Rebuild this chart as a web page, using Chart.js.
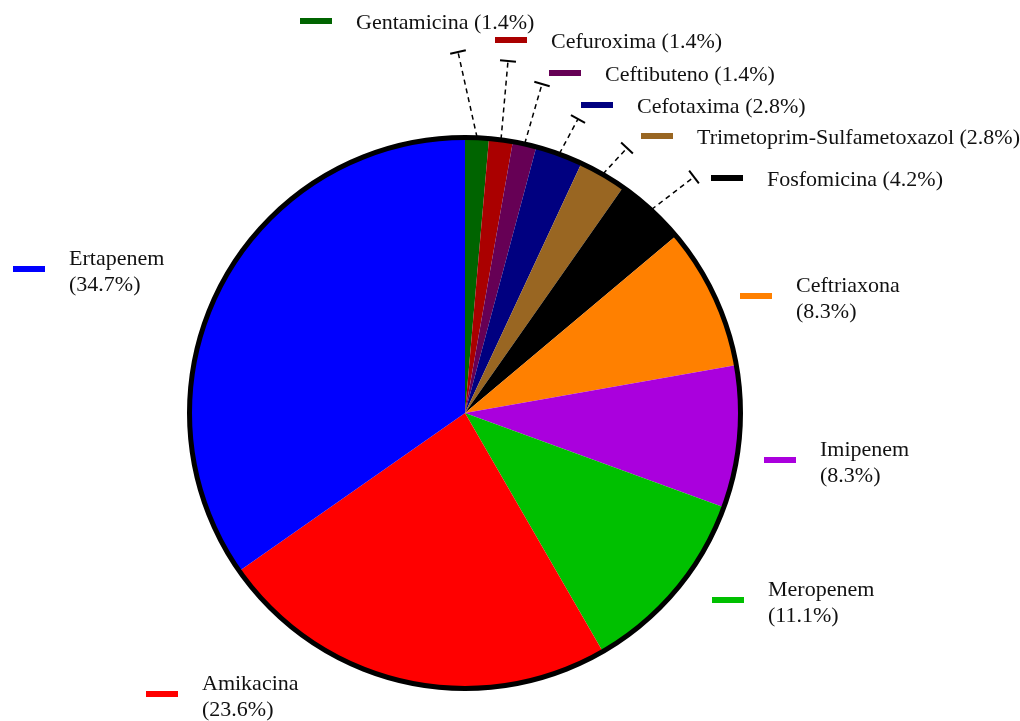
<!DOCTYPE html>
<html>
<head>
<meta charset="utf-8">
<script src="https://cdn.jsdelivr.net/npm/chart.js@4/dist/chart.umd.min.js"></script>
<style>
    html, body { margin: 0; padding: 0; background: #fff; }
    #wrap { width: 1020px; height: 721px; }
</style>
</head>
<body>
<div id="wrap"><canvas id="pieChart" width="1020" height="721"></canvas></div>
<script>
// data: number of isolates per antibiotic (percentages, n = 72)
const antibiotics = ['Gentamicina', 'Cefuroxima', 'Ceftibuteno', 'Cefotaxima',
    'Trimetoprim-Sulfametoxazol', 'Fosfomicina', 'Ceftriaxona', 'Imipenem',
    'Meropenem', 'Amikacina', 'Ertapenem'];
const counts = [1, 1, 1, 2, 2, 3, 6, 6, 8, 17, 25];
const sliceColors = ['#006400', '#aa0000', '#660055', '#000080', '#996622',
    '#000000', '#ff8000', '#aa00dd', '#00c000', '#ff0000', '#0000ff'];

// label layout (marker position, one or two text lines, leader end for small slices)
const labelLayout = [
    { x: 300, y: 21, twoLines: false, leader: [458, 52] },
    { x: 495, y: 40, twoLines: false, leader: [508, 61] },
    { x: 549, y: 73, twoLines: false, leader: [542, 84] },
    { x: 581, y: 105, twoLines: false, leader: [578, 119] },
    { x: 641, y: 136, twoLines: false, leader: [627, 148] },
    { x: 711, y: 178, twoLines: false, leader: [694, 177] },
    { x: 740, y: 296, twoLines: true, leader: null },
    { x: 764, y: 460, twoLines: true, leader: null },
    { x: 712, y: 600, twoLines: true, leader: null },
    { x: 146, y: 694, twoLines: true, leader: null },
    { x: 13, y: 269, twoLines: true, leader: null }
];

const labelFont = '22px "Liberation Serif", "DejaVu Serif", serif';

const sliceLabels = {
    id: 'sliceLabels',
    afterDatasetsDraw(chart) {
        const ctx = chart.ctx;
        const arcs = chart.getDatasetMeta(0).data;
        const total = counts.reduce((a, b) => a + b, 0);
        const first = arcs[0];

        ctx.save();
        // outer ring
        ctx.beginPath();
        ctx.arc(first.x, first.y, first.outerRadius - 0.5, 0, Math.PI * 2);
        ctx.lineWidth = 5;
        ctx.strokeStyle = '#000';
        ctx.stroke();

        arcs.forEach((arc, i) => {
            const lay = labelLayout[i];
            const pct = (counts[i] / total * 100).toFixed(1) + '%';

            if (lay.leader) {
                const mid = (arc.startAngle + arc.endAngle) / 2;
                const r = arc.outerRadius;
                const sx = arc.x + Math.cos(mid) * r;
                const sy = arc.y + Math.sin(mid) * r;
                const [ex, ey] = lay.leader;
                ctx.beginPath();
                ctx.setLineDash([5, 4]);
                ctx.lineWidth = 1.5;
                ctx.moveTo(sx, sy);
                ctx.lineTo(ex, ey);
                ctx.stroke();
                // end tick, perpendicular to the leader
                const len = Math.hypot(ex - sx, ey - sy);
                const px = -(ey - sy) / len * 8;
                const py = (ex - sx) / len * 8;
                ctx.setLineDash([]);
                ctx.lineWidth = 2;
                ctx.beginPath();
                ctx.moveTo(ex - px, ey - py);
                ctx.lineTo(ex + px, ey + py);
                ctx.stroke();
            }

            // legend-style marker
            ctx.fillStyle = sliceColors[i];
            ctx.fillRect(lay.x, lay.y - 3, 32, 6);

            ctx.fillStyle = '#111';
            ctx.font = labelFont;
            ctx.textBaseline = 'middle';
            ctx.textAlign = 'left';
            const tx = lay.x + 56;
            if (lay.twoLines) {
                ctx.fillText(antibiotics[i], tx, lay.y - 10);
                ctx.fillText('(' + pct + ')', tx, lay.y + 16);
            } else {
                ctx.fillText(antibiotics[i] + ' (' + pct + ')', tx, lay.y + 2);
            }
        });
        ctx.restore();
    }
};

new Chart(document.getElementById('pieChart'), {
    type: 'pie',
    data: {
        labels: antibiotics,
        datasets: [{
            data: counts,
            backgroundColor: sliceColors,
            borderWidth: 0
        }]
    },
    options: {
        responsive: false,
        animation: false,
        layout: {
            padding: { left: 189, right: 279, top: 137, bottom: 32 }
        },
        plugins: {
            legend: { display: false },
            tooltip: { enabled: false }
        }
    },
    plugins: [sliceLabels]
});
</script>
</body>
</html>
